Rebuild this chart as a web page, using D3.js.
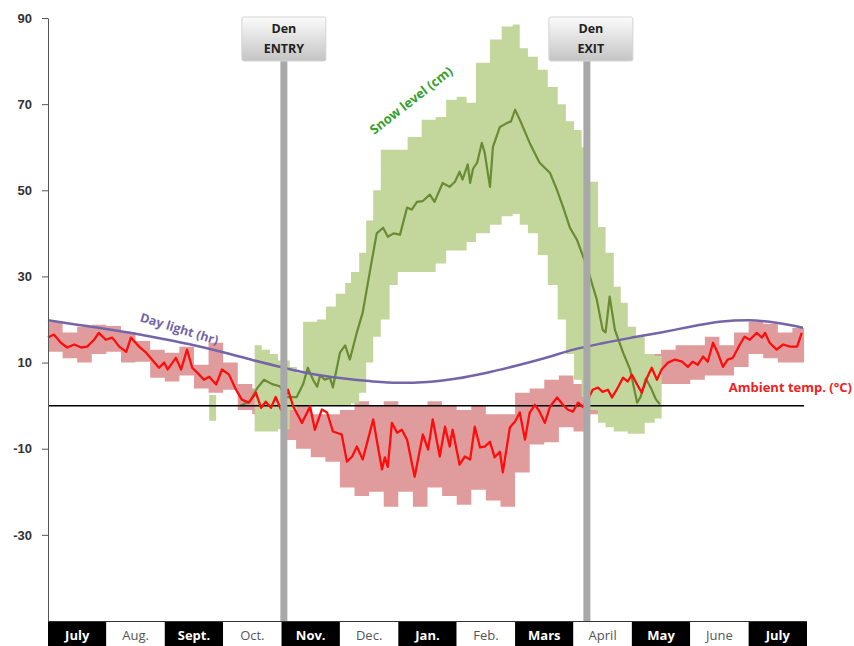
<!DOCTYPE html>
<html>
<head>
<meta charset="utf-8">
<script src="https://cdn.jsdelivr.net/npm/d3@7"></script>
<style>
  body { margin: 0; background: #fff; }
  svg { display: block; font-family: "Open Sans", "DejaVu Sans", sans-serif; }
</style>
</head>
<body>
<div id="chart"></div>
<script>
// month positions: 0 = start of July, 13 = end of next July
var months = ["July", "Aug.", "Sept.", "Oct.", "Nov.", "Dec.", "Jan.", "Feb.", "Mars", "April", "May", "June", "July"]
var yTicks = [90, 70, 50, 30, 10, -10, -30]

var denMonth = [4.04, 9.23]
var denLabel = ["ENTRY", "EXIT"]

// day length (hr)
var dayMonth = [0, 0.5, 1, 1.5, 2, 2.5, 3, 3.5, 4, 4.5, 5, 5.5, 6, 6.5, 7, 7.5, 8, 8.5, 9, 9.5, 10, 10.5, 11, 11.5, 12, 12.5, 12.93]
var dayHours = [19.8, 18.8, 17.8, 16.7, 15.4, 14.0, 12.4, 10.6, 8.9, 7.4, 6.4, 5.7, 5.3, 5.5, 6.3, 7.6, 9.2, 11.0, 13.0, 14.5, 15.8, 17.0, 18.3, 19.5, 19.8, 19.2, 18.1]

// ambient temperature, mean (°C)
var tempMonth = [0, 0.10, 0.22, 0.33, 0.45, 0.57, 0.67, 0.79, 0.87, 0.99, 1.10, 1.22, 1.34, 1.42, 1.56, 1.68, 1.78, 1.90, 1.99, 2.05,
  2.19, 2.28, 2.38, 2.47, 2.59, 2.67, 2.76, 2.88, 2.98, 3.10, 3.22, 3.32, 3.44, 3.56, 3.65, 3.73, 3.82, 3.90, 3.99, 4.11,
  4.20, 4.35, 4.49, 4.57, 4.69, 4.78, 4.88, 5.03, 5.12, 5.21, 5.29, 5.39, 5.48, 5.57, 5.65, 5.72, 5.77, 5.82, 5.89, 5.98,
  6.06, 6.15, 6.28, 6.42, 6.51, 6.59, 6.71, 6.80, 6.88, 6.93, 7.05, 7.14, 7.23, 7.31, 7.40, 7.48, 7.57, 7.65, 7.74, 7.79,
  7.91, 8.00, 8.08, 8.17, 8.25, 8.34, 8.42, 8.51, 8.60, 8.72, 8.82, 8.90, 8.99, 9.08, 9.16, 9.23, 9.33, 9.42, 9.50, 9.59,
  9.66, 9.74, 9.85, 9.93, 10.00, 10.09, 10.17, 10.26, 10.34, 10.43, 10.51, 10.62, 10.74, 10.86, 10.96, 11.04, 11.13, 11.22, 11.30, 11.39,
  11.47, 11.56, 11.64, 11.73, 11.85, 11.93, 12.02, 12.14, 12.23, 12.28, 12.36, 12.48, 12.59, 12.71, 12.83, 12.91]
var tempMean = [15.8, 16.5, 14.6, 13.5, 14.2, 13.5, 13.7, 15.3, 16.9, 15.3, 15.8, 13.7, 12.5, 15.8, 13.7, 12.3, 10.7, 8.8, 10.0, 8.4,
  11.1, 8.4, 13.0, 8.8, 7.2, 6.0, 6.7, 4.9, 8.4, 7.2, 3.7, 1.4, 0.7, 3.0, -0.5, 0.9, -0.5, 2.0, -0.9, 3.7,
  -0.2, -4.0, -0.2, -5.6, -0.9, -1.6, -6.0, -6.7, -13.0, -11.8, -9.5, -12.5, -7.9, -3.2, -9.5, -14.8, -12.0, -14.2, -4.0, -6.3,
  -5.6, -7.9, -16.5, -6.7, -10.2, -3.2, -11.8, -4.9, -9.5, -5.6, -13.7, -11.8, -12.5, -4.9, -9.7, -9.5, -8.4, -12.0, -10.7, -15.5,
  -5.1, -3.7, -1.6, -7.9, -1.6, 0.2, -1.4, -4.0, -0.2, 1.9, 0.2, -0.9, -1.4, 0.7, -0.3, 1.0, 3.7, 4.2, 3.2, 3.7,
  1.9, 3.7, 6.5, 5.6, 7.2, 4.9, 3.0, 6.5, 8.8, 6.0, 8.4, 10.0, 10.7, 10.2, 9.0, 10.2, 9.5, 11.4, 10.2, 14.6,
  12.3, 9.0, 10.7, 11.1, 14.2, 16.0, 15.3, 16.9, 15.8, 16.9, 14.6, 13.0, 14.2, 13.7, 13.7, 16.9]

// ambient temperature, weekly spread (upper / lower edge)
var tempBandMonth = [0, 0.25, 0.5, 0.75, 1, 1.25, 1.5, 1.75, 2, 2.25, 2.5, 2.75, 3, 3.25, 3.5, 3.75, 4, 4.25, 4.5, 4.75,
  5, 5.25, 5.5, 5.75, 6, 6.25, 6.5, 6.75, 7, 7.25, 7.5, 7.75, 8, 8.25, 8.5, 8.75, 9, 9.25, 9.5, 9.75,
  10, 10.25, 10.5, 10.75, 11, 11.25, 11.5, 11.75, 12, 12.25, 12.5, 12.75, 12.95]
var tempHi = [19.5, 17, 18.3, 18.8, 18.5, 17, 15, 13, 12.3, 13.7, 9.5, 14.6, 10, 5, 4, 4, 5, 0, -2, -2,
  -1, 1, 0, 1, 0, 0, 1, 0, -1, 0, -2, -2, 3, 4, 6, 7, 5, 7, 7, 9,
  9, 12, 13, 14, 14, 16, 14, 17, 19.5, 19, 17, 18, 18]
var tempLo = [12.5, 11, 10, 12, 12.5, 10, 10.2, 6.5, 5.6, 7, 4, 3, 3.7, -1, -2, -3.5, -8, -10, -12, -13,
  -19, -21, -20, -23.5, -20, -23.5, -19, -21, -23, -19.5, -22, -23.5, -15.5, -9, -8.5, -5, -6, -2, -1, 1,
  0, 3, 5, 5, 6, 7, 7, 9, 12, 11, 10, 10, 10]

// snow level (cm): spread, null = no snow
var snowBandMonth = [2.76, 2.88, 2.89,
  3.54, 3.66, 3.80, 3.94, 4.14, 4.26, 4.37, 4.61, 4.76, 4.93, 5.09, 5.19, 5.33, 5.45, 5.57, 5.70, 5.85,
  5.99, 6.16, 6.40, 6.64, 6.82, 7.00, 7.17, 7.33, 7.57, 7.77, 7.96, 8.08, 8.22, 8.39, 8.56, 8.73, 8.87, 9.01,
  9.14, 9.28, 9.42, 9.55, 9.69, 9.81, 9.93, 10.07, 10.22, 10.39, 10.51]
var snowHi = [2.5, 2.5, null,
  14, 13, 12, 10.5, 9, 7.5, 19.5, 20, 23, 26, 28.5, 31, 35.5, 43, 50, 59.4, 59.4,
  59.4, 62.4, 66.4, 67, 71, 71.7, 70.3, 79.6, 85, 88, 88.5, 83, 81, 78, 74, 70, 66, 64,
  60, 52, 41.5, 35.5, 27.6, 23.9, 18.3, 16, 12, 11.5, 11.5]
var snowLo = [-3.5, -3.5, null,
  -6, -6, -6, -5.5, -1, 0, 0, 0, 0, 0, 0, 0.5, 3, 10, 16, 20, 28,
  31, 31, 31, 33, 36, 36, 38, 40, 42, 44, 44.5, 42, 40, 35, 28, 20, 12, 6,
  2, -1, -4, -5, -6, -6, -6.5, -6.5, -4, -3, -3]

// snow level (cm), mean
var snowMonth = [3.29, 3.46, 3.58, 3.70, 3.84, 3.97, 4.09, 4.26, 4.37, 4.45, 4.54, 4.61, 4.66, 4.74, 4.83, 4.88, 5.00, 5.09, 5.17, 5.29,
  5.39, 5.51, 5.63, 5.74, 5.82, 5.92, 6.03, 6.15, 6.23, 6.32, 6.42, 6.54, 6.62, 6.76, 6.88, 6.97, 7.05, 7.10, 7.19, 7.23,
  7.28, 7.35, 7.43, 7.48, 7.57, 7.62, 7.74, 7.86, 7.93, 8.00, 8.08, 8.25, 8.42, 8.60, 8.72, 8.82, 8.94, 9.06, 9.23, 9.40,
  9.50, 9.55, 9.62, 9.71, 9.85, 9.97, 10.09, 10.15, 10.24, 10.33, 10.41, 10.48]
var snowMean = [0, 1, 4, 6, 5, 4.5, 2, 2, 5, 8.8, 6, 4.4, 7, 6, 6.5, 4.2, 12.3, 14, 10.7, 17,
  21.6, 30.9, 40, 41.3, 39.2, 40, 39.7, 46, 45.5, 47.3, 47.5, 49, 47.3, 51.7, 50.8, 52, 54.3, 52.5, 56, 51.7,
  55, 56.4, 61, 58.7, 50.8, 60, 64.7, 65.6, 66, 68.7, 66.4, 61, 56.4, 54, 50, 46.2, 41.3, 38.5, 32.3, 24.6,
  17.6, 17, 25.3, 17.6, 12.3, 8.4, 0.7, 2, 6.3, 4, 1.5, 0.3]

var W = 854, H = 646

var svg = d3.select("#chart").append("svg")
  .attr("width", W)
  .attr("height", H)

var x = d3.scaleLinear().domain([0, 13]).range([48, 807])
var y = d3.scaleLinear().domain([-50, 90]).range([621, 18])

var defs = svg.append("defs")
var grad = defs.append("linearGradient")
  .attr("id", "boxGrad")
  .attr("x1", 0).attr("y1", 0).attr("x2", 0).attr("y2", 1)
grad.append("stop").attr("offset", "0%").attr("stop-color", "#fbfbfb")
grad.append("stop").attr("offset", "100%").attr("stop-color", "#c4c4c4")

// temperature band
var tempBand = tempBandMonth.map(function(m, i){ return {m: m, hi: tempHi[i], lo: tempLo[i]} })
svg.append("path")
  .datum(tempBand)
  .attr("fill", "#e09c9c")
  .attr("d", d3.area()
    .curve(d3.curveStepAfter)
    .x(function(d){ return x(d.m) })
    .y0(function(d){ return y(d.lo) })
    .y1(function(d){ return y(d.hi) }))

// snow band
var snowBand = snowBandMonth.map(function(m, i){ return {m: m, hi: snowHi[i], lo: snowLo[i]} })
svg.append("path")
  .datum(snowBand)
  .attr("fill", "#c3d69b")
  .attr("d", d3.area()
    .curve(d3.curveStepAfter)
    .defined(function(d){ return d.hi != null })
    .x(function(d){ return x(d.m) })
    .y0(function(d){ return y(d.lo) })
    .y1(function(d){ return y(d.hi) }))

// snow mean
svg.append("path")
  .datum(snowMonth.map(function(m, i){ return [m, snowMean[i]] }))
  .attr("fill", "none")
  .attr("stroke", "#6a8a34")
  .attr("stroke-width", 2.2)
  .attr("stroke-linejoin", "round")
  .attr("d", d3.line()
    .x(function(d){ return x(d[0]) })
    .y(function(d){ return y(d[1]) }))

// zero line
svg.append("line")
  .attr("x1", x(0)).attr("x2", x(12.95))
  .attr("y1", y(0)).attr("y2", y(0))
  .attr("stroke", "#000")
  .attr("stroke-width", 1.5)

// day light
svg.append("path")
  .datum(dayMonth.map(function(m, i){ return [m, dayHours[i]] }))
  .attr("fill", "none")
  .attr("stroke", "#7465a8")
  .attr("stroke-width", 2.5)
  .attr("d", d3.line()
    .curve(d3.curveMonotoneX)
    .x(function(d){ return x(d[0]) })
    .y(function(d){ return y(d[1]) }))

// temperature mean
svg.append("path")
  .datum(tempMonth.map(function(m, i){ return [m, tempMean[i]] }))
  .attr("fill", "none")
  .attr("stroke", "#ff0d0d")
  .attr("stroke-width", 2.3)
  .attr("stroke-linejoin", "round")
  .attr("d", d3.line()
    .x(function(d){ return x(d[0]) })
    .y(function(d){ return y(d[1]) }))

// y axis
var yAxis = svg.append("g")
  .attr("transform", "translate(" + x(0) + ",0)")
  .call(d3.axisLeft(y).tickValues(yTicks).tickSize(6).tickPadding(10).tickSizeOuter(0)
    .tickFormat(function(d){ return String(d) }))
yAxis.select(".domain").attr("stroke", "#555")
yAxis.selectAll(".tick line").attr("stroke", "#555")
yAxis.selectAll(".tick text")
  .attr("fill", "#333")
  .style("font-size", "13px")
  .style("font-weight", "bold")

// den entry / exit
denMonth.forEach(function(m, i){
  svg.append("line")
    .attr("x1", x(m)).attr("x2", x(m))
    .attr("y1", 60).attr("y2", y(-50))
    .attr("stroke", "#a8a8a8")
    .attr("stroke-width", 7)

  var g = svg.append("g").attr("transform", "translate(" + (x(m) + (i == 1 ? 4 : 0)) + ",0)")
  g.append("rect")
    .attr("x", -42).attr("y", 17)
    .attr("width", 84).attr("height", 44)
    .attr("rx", 2)
    .attr("fill", "url(#boxGrad)")
    .attr("stroke", "#d4d4d4")
  g.append("text")
    .attr("y", 33)
    .attr("text-anchor", "middle")
    .style("font-size", "12.5px")
    .style("font-weight", "bold")
    .attr("fill", "#222")
    .text("Den")
  g.append("text")
    .attr("y", 53)
    .attr("text-anchor", "middle")
    .style("font-size", "12.5px")
    .style("font-weight", "bold")
    .attr("fill", "#222")
    .text(denLabel[i])
})

// series labels
svg.append("text")
  .attr("transform", "translate(414,104) rotate(-38)")
  .attr("text-anchor", "middle")
  .style("font-size", "13px")
  .style("font-weight", "bold")
  .attr("fill", "#35a02c")
  .text("Snow level (cm)")

svg.append("text")
  .attr("transform", "translate(178,333) rotate(17)")
  .attr("text-anchor", "middle")
  .style("font-size", "12.5px")
  .style("font-weight", "bold")
  .attr("fill", "#7465a8")
  .text("Day light (hr)")

svg.append("text")
  .attr("x", 852).attr("y", 392)
  .attr("text-anchor", "end")
  .style("font-size", "13px")
  .style("font-weight", "bold")
  .attr("fill", "#ee2222")
  .text("Ambient temp. (°C)")

// month bar
var bar = svg.append("g")
bar.selectAll("rect")
  .data(months)
  .enter().append("rect")
    .attr("x", function(d, i){ return x(i) })
    .attr("y", y(-50) + 1)
    .attr("width", x(1) - x(0))
    .attr("height", H - y(-50) - 1)
    .attr("fill", function(d, i){ return i % 2 == 0 ? "#000" : "#fff" })
bar.selectAll("text")
  .data(months)
  .enter().append("text")
    .attr("x", function(d, i){ return x(i + 0.5) })
    .attr("y", 640)
    .attr("text-anchor", "middle")
    .style("font-size", "13px")
    .style("font-weight", function(d, i){ return i % 2 == 0 ? "bold" : "normal" })
    .attr("fill", function(d, i){ return i % 2 == 0 ? "#fff" : "#555" })
    .text(function(d){ return d })
svg.append("line")
  .attr("x1", x(0)).attr("x2", x(13))
  .attr("y1", y(-50) + 0.5).attr("y2", y(-50) + 0.5)
  .attr("stroke", "#333")
</script>
</body>
</html>
